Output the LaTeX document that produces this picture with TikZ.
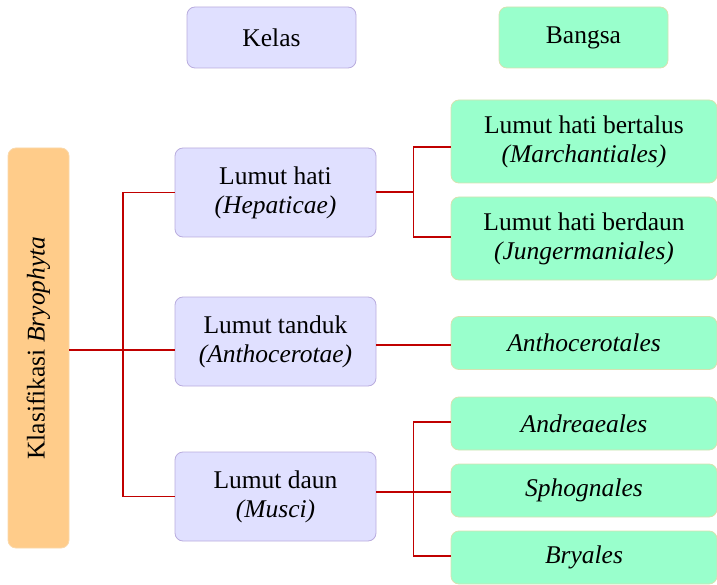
\documentclass[tikz,border=0pt]{standalone}
\usepackage{fontspec}
\setmainfont{Liberation Serif}
\usetikzlibrary{calc}
\definecolor{kelasfill}{RGB}{224,224,255}
\definecolor{kelasline}{RGB}{185,172,222}
\definecolor{bangsafill}{RGB}{153,255,204}
\definecolor{bangsaline}{RGB}{214,226,176}
\definecolor{klasfill}{RGB}{255,204,138}
\definecolor{klasline}{RGB}{250,216,170}
\definecolor{linkred}{RGB}{192,0,0}

\begin{document}
\begin{tikzpicture}[x=1pt,y=-1pt,
    box/.style={rounded corners=8pt,line width=0.8pt,align=center,inner sep=0pt,
        font=\fontsize{25.5}{29}\selectfont},
    kelasbox/.style={box,fill=kelasfill,draw=kelasline,minimum width=201pt,minimum height=89pt},
    bangsabox/.style={box,fill=bangsafill,draw=bangsaline,minimum width=266pt,minimum height=53pt},
    link/.style={linkred,line width=1.8pt}]
    \useasboundingbox (0,0) rectangle (717,585);
    % heading boxes
    \node[box,fill=kelasfill,draw=kelasline,minimum width=169pt,minimum height=61pt] (kelas) at (271.5,37.5) {Kelas};
    \node[box,fill=bangsafill,draw=bangsaline,minimum width=169pt,minimum height=61pt] (bangsa) at (583.5,37.5) {Bangsa};
    % root
    \node[box,fill=klasfill,draw=klasline,minimum width=61pt,minimum height=400pt] (klas) at (38.5,348) {};
    \node[rotate=90,font=\fontsize{25.5}{29}\selectfont] (klastext) at (klas.center) {Klasifikasi \textit{Bryophyta}};
    % kelas
    \node[kelasbox] (hati) at (275.5,192.5) {Lumut hati\\\textit{(Hepaticae)}};
    \node[kelasbox] (tanduk) at (275.5,341.5) {Lumut tanduk\\\textit{(Anthocerotae)}};
    \node[kelasbox] (daun) at (275.5,496.5) {Lumut daun\\\textit{(Musci)}};
    % bangsa
    \node[bangsabox,minimum height=83pt] (marchan) at (584,141.5) {Lumut hati bertalus\\\textit{(Marchantiales)}};
    \node[bangsabox,minimum height=83pt] (junger) at (584,238.5) {Lumut hati berdaun\\\textit{(Jungermaniales)}};
    \node[bangsabox] (antho) at (584,343) {\textit{Anthocerotales}};
    \node[bangsabox] (andre) at (584,423.5) {\textit{Andreaeales}};
    \node[bangsabox] (sphog) at (584,490.5) {\textit{Sphognales}};
    \node[bangsabox] (bryal) at (584,557.5) {\textit{Bryales}};
    % connectors
    \coordinate (trunk) at (123,350);
    \draw[link] (klas.east |- trunk) -- (tanduk.west |- trunk);
    \draw[link] (hati.west) -| (trunk) |- (daun.west);
    \draw[link] ([yshift=0.5pt]hati.east) -- ++(37,0) coordinate (hj);
    \draw[link] ([yshift=-5.5pt]marchan.west) -| (hj) |- ([yshift=1.5pt]junger.west);
    \draw[link] (tanduk.east) ++(0,3.5) -- (antho.west |- 0,345);
    \draw[link] ([yshift=4.5pt]daun.east) -- ++(37,0) coordinate (dj) -- (sphog.west |- dj);
    \draw[link] ([yshift=1.5pt]andre.west) -| (dj) |- ([yshift=1.5pt]bryal.west);
\end{tikzpicture}
\end{document}
